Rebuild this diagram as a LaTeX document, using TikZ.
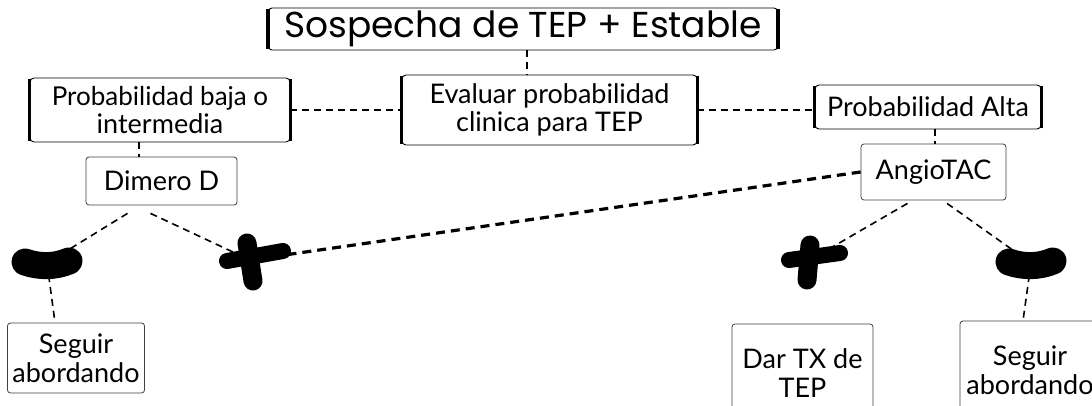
\documentclass[tikz,border=0pt]{standalone}
\usepackage{fontspec}
\setmainfont{Lato}
\newfontfamily\titlefont{Poppins}
\begin{document}
\begin{tikzpicture}[x=1pt,y=-1pt,
  thinbox/.style={draw=black!75,line width=0.8pt,rounded corners=3pt,align=center,inner sep=0pt,font=\fontsize{27}{29}\selectfont},
  bracketbox/.style={draw=black,line width=0.9pt,rounded corners=4pt,align=center,inner sep=0pt,font=\fontsize{27}{28}\selectfont},
  conn/.style={line width=1.6pt,dash pattern=on 7pt off 5pt},
  thickconn/.style={line width=3.2pt,dash pattern=on 9pt off 6pt},
  blobnode/.style={inner sep=0pt,minimum size=0pt},
  side/.style={line width=3pt}
]
\clip (0,0) rectangle (1092,406);
\fill[white] (0,0) rectangle (1092,406);

% boxes
\node[bracketbox,minimum width=510pt,minimum height=42pt,font=\titlefont\fontsize{36}{40}\selectfont] (title) at (523,29) {Sospecha de TEP + Estable};
\node[bracketbox,minimum width=295pt,minimum height=70pt] (eval) at (549.5,110) {Evaluar probabilidad\\clinica para TEP};
\node[bracketbox,minimum width=260pt,minimum height=64pt] (baja) at (160,110) {\fontsize{26}{28}\selectfont Probabilidad baja o\\intermedia};
\node[bracketbox,minimum width=226pt,minimum height=44pt] (alta) at (928,107) {Probabilidad Alta};
\node[thinbox,minimum width=151pt,minimum height=48pt] (dimero) at (161.5,181) {Dimero D};
\node[thinbox,minimum width=145pt,minimum height=56pt] (angio) at (933.5,172) {AngioTAC};
\node[thinbox,minimum width=137pt,minimum height=70pt] (seguirL) at (76,358) {Seguir\\abordando};
\node[thinbox,minimum width=141pt,minimum height=98pt] (dar) at (802.5,373) {Dar TX de\\TEP};
\node[thinbox,minimum width=140pt,minimum height=98pt] (seguirR) at (1030,370) {Seguir\\abordando};

% thick bracket sides
\foreach \n in {eval,baja,alta}{
  \draw[side] ([yshift=-1pt]\n.north west) -- ([yshift=1pt]\n.south west);
  \draw[side] ([yshift=-1pt]\n.north east) -- ([yshift=1pt]\n.south east);
}
\draw[line width=4pt] ([yshift=-1pt]title.north west) -- ([yshift=1pt]title.south west);
\draw[line width=4pt] ([yshift=-1pt]title.north east) -- ([yshift=1pt]title.south east);

% blobs
\node[blobnode] (minusL) at (47,263) {};
\node[blobnode] (plusL) at (250,260) {};
\node[blobnode] (plusR) at (810,260) {};
\node[blobnode] (minusR) at (1031,263) {};

\begin{scope}[shift={(minusL)}]
  \draw[line width=27pt,line cap=round] (-22,-1) .. controls (-8,4) and (8,4) .. (22,-2);
\end{scope}
\begin{scope}[shift={(minusR)}]
  \draw[line width=27pt,line cap=round] (-22,-1) .. controls (-8,4) and (8,4) .. (22,-2);
\end{scope}
\begin{scope}[shift={(plusL)}]
  \draw[line width=16pt,line cap=round] (-23,1) -- (33,-9);
  \draw[line width=19pt,line cap=round] (-3,-17) -- (3,21);
\end{scope}
\begin{scope}[shift={(plusR)}]
  \draw[line width=16pt,line cap=round] (-21,0) -- (30,-7);
  \draw[line width=19pt,line cap=round] (0,-15) -- (-3,20);
\end{scope}

% connectors
\draw[conn] ([xshift=4pt]title.south) -- ([xshift=4pt]title.south |- eval.north);
\draw[conn] (baja.east) -- (eval.west);
\draw[conn] (eval.east) -- (eval.east -| alta.west);
\draw[conn] ([xshift=-21pt]baja.south) -- ([xshift=-21pt]baja.south |- dimero.north);
\draw[conn] ([xshift=7pt]alta.south) -- ([xshift=7pt]alta.south |- angio.north);
\draw[conn] ([shift={(-34,8)}]dimero.south) -- ([shift={(-4,-16)}]minusL);
\draw[conn] ([shift={(-11,8)}]dimero.south) -- ([shift={(-20,-7)}]plusL);
\draw[conn] ([shift={(8,15)}]minusL) -- ([shift={(-21,0)}]seguirL.north);
\draw[thickconn] (angio.west) -- ([shift={(40,-13)}]plusL);
\draw[conn] ([shift={(-26,3)}]angio.south) -- ([shift={(15,-17)}]plusR);
\draw[conn] ([shift={(13.5,3)}]angio.south) -- ([shift={(-6,-13)}]minusR);
\draw[conn] ([shift={(-4,15)}]minusR) -- ([shift={(-7,0)}]seguirR.north);
\end{tikzpicture}
\end{document}
